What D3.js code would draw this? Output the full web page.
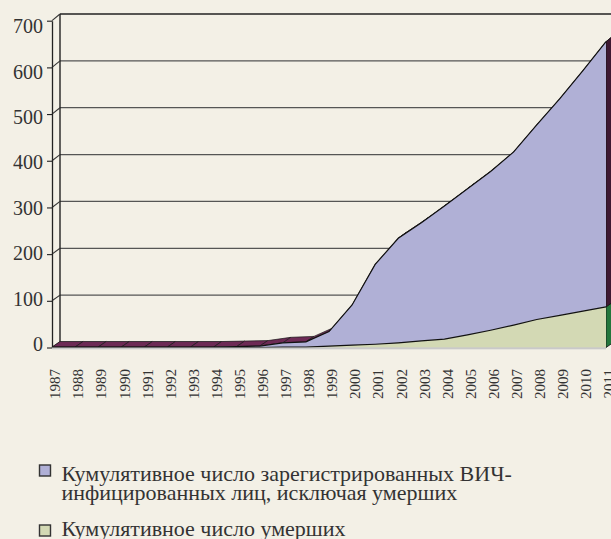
<!DOCTYPE html>
<html><head><meta charset="utf-8">
<script src="https://cdn.jsdelivr.net/npm/d3@7/dist/d3.min.js"></script>
<style>body{margin:0;background:#f3f0e6;overflow:hidden} svg{display:block}</style>
</head><body>
<svg id="c" width="611" height="539"></svg>
<script>
const years = ["1987","1988","1989","1990","1991","1992","1993","1994","1995","1996","1997","1998","1999",
  "2000","2001","2002","2003","2004","2005","2006","2007","2008","2009","2010","2011"];
const livingValues = [1,1,1,1,1,1,1,1,2,3,9,11,31,86,171,224,253,285,313,340,371,417,464,515,568];
const deathValues  = [0,0,0,0,0,0,0,0,0,0,1,1,3,5,7,10,14,18,27,37,48,60,69,78,87];
const yTicks = [0,100,200,300,400,500,600,700];
const legendLines = [
  ["Кумулятивное число зарегистрированных ВИЧ-", "инфицированных лиц, исключая умерших"],
  ["Кумулятивное число умерших"]
];
const fills = ["#d3d9b4", "#b0b0d6"];
const sideFills = ["#23763c", "#3e1832"];

const svg = d3.select("#c");
svg.append("rect").attr("width",611).attr("height",539).attr("fill","#f3f0e6");

const data = years.map((y,i)=>({year:y, deaths:deathValues[i], living:livingValues[i]}));
const stacked = d3.stack().keys(["deaths","living"])(data);

const x = d3.scalePoint().domain(years).range([52,606]);
const yF = d3.scaleLinear().domain([0,700]).range([347.5,20.7]);
const yB = d3.scaleLinear().domain([0,700]).range([342,14]);
const yL = d3.scaleLinear().domain([0,700]).range([344,26.3]);
const DX = 8;

// back wall gridlines
svg.append("g").selectAll("line").data(yTicks).join("line")
  .attr("x1",60).attr("x2",611).attr("y1",d=>yB(d)).attr("y2",d=>yB(d))
  .attr("stroke",d=>d===700?"#222":(d===0?"#999":"#555")).attr("stroke-width",d=>d===700?1.4:1.3);
svg.append("line").attr("x1",60).attr("x2",60).attr("y1",yB(700)).attr("y2",yB(0))
  .attr("stroke","#222").attr("stroke-width",1.4);

// floor
svg.append("polygon")
  .attr("points",[[52,yF(0)],[606,yF(0)],[606+DX,yB(0)],[60,yB(0)]].map(p=>p.join(",")).join(" "))
  .attr("fill","#a6a6a6");

// diagonals to back wall
svg.append("g").selectAll("line").data(yTicks).join("line")
  .attr("x1",52).attr("x2",60).attr("y1",d=>yF(d)).attr("y2",d=>yB(d))
  .attr("stroke","#333").attr("stroke-width",1.1);

// front axis
const ax = svg.append("g").attr("transform","translate(52,0)")
  .call(d3.axisLeft(yF).tickValues(yTicks).tickSize(5).tickSizeOuter(0).tickPadding(4));
ax.select(".domain").attr("stroke","#222").attr("stroke-width",1.3);
ax.selectAll(".tick line").attr("stroke","#222").attr("stroke-width",1.1);
ax.selectAll(".tick text").attr("y",d=>yL(d)-yF(d))
  .attr("font-family","'Liberation Serif','DejaVu Serif',serif").attr("font-size",20).attr("fill","#333");

// top surfaces of total
const topSeries = stacked[1];
const tq = [];
for(let i=0;i<topSeries.length-1;i++){
  const a=topSeries[i], b=topSeries[i+1];
  tq.push([[x(a.data.year),yF(a[1])],[x(b.data.year),yF(b[1])],[x(b.data.year)+DX,yB(b[1])],[x(a.data.year)+DX,yB(a[1])]]);
}
svg.append("g").selectAll("polygon").data(tq).join("polygon")
  .attr("points",d=>d.map(p=>p.join(",")).join(" "))
  .attr("fill","#6d2a55").attr("stroke","#1a1a1a").attr("stroke-width",0.7);

// right side faces
const last = years.length-1;
const xl = x(years[last]);
stacked.forEach((s,k)=>{
  const d=s[last];
  svg.append("polygon")
    .attr("points",[[xl,yF(d[1])],[xl+DX,yB(d[1])],[xl+DX,yB(d[0])],[xl,yF(d[0])]].map(p=>p.join(",")).join(" "))
    .attr("fill",sideFills[k]).attr("stroke","#111").attr("stroke-width",0.8);
});

// front faces
const area = d3.area().x(d=>x(d.data.year)).y0(d=>yF(d[0])).y1(d=>yF(d[1]));
const line = d3.line().x(d=>x(d.data.year)).y(d=>yF(d[1]));
[1,0].forEach(k=>{
  svg.append("path").attr("d",area(stacked[k])).attr("fill",fills[k]);
});
[1,0].forEach(k=>{
  svg.append("path").attr("d",line(stacked[k])).attr("fill","none").attr("stroke","#111").attr("stroke-width",1.2);
});
// floor front edge
svg.append("rect").attr("x",52).attr("y",yF(0)).attr("width",554).attr("height",1.8).attr("fill","#c9c9c9");

// x labels
svg.append("g").selectAll("text").data(years).join("text")
  .attr("transform",d=>`translate(${x(d)+3},369) rotate(-90)`)
  .attr("text-anchor","end").attr("dy","0.35em")
  .attr("font-family","'Liberation Serif','DejaVu Serif',serif").attr("font-size",15).attr("fill","#333")
  .text(d=>d);

// legend
const lg = svg.append("g");
const legY = [465, 525];
const baseY = [481, 535.5];
legendLines.forEach((lines,k)=>{
  const fk = k===0?1:0;
  lg.append("rect").attr("x",39.5).attr("y",legY[k]).attr("width",11).attr("height",11)
    .attr("fill",fills[fk]).attr("stroke","#333").attr("stroke-width",1.4);
  const t = lg.append("text").attr("x",61.5).attr("y",baseY[k])
      .attr("font-family","'Liberation Serif','DejaVu Serif',serif").attr("font-size",22).attr("fill","#333");
  lines.forEach((s,j)=>{
    t.append("tspan").attr("x",61.5).attr("dy",j===0?0:19).text(s);
  });
});
</script>
</body></html>
